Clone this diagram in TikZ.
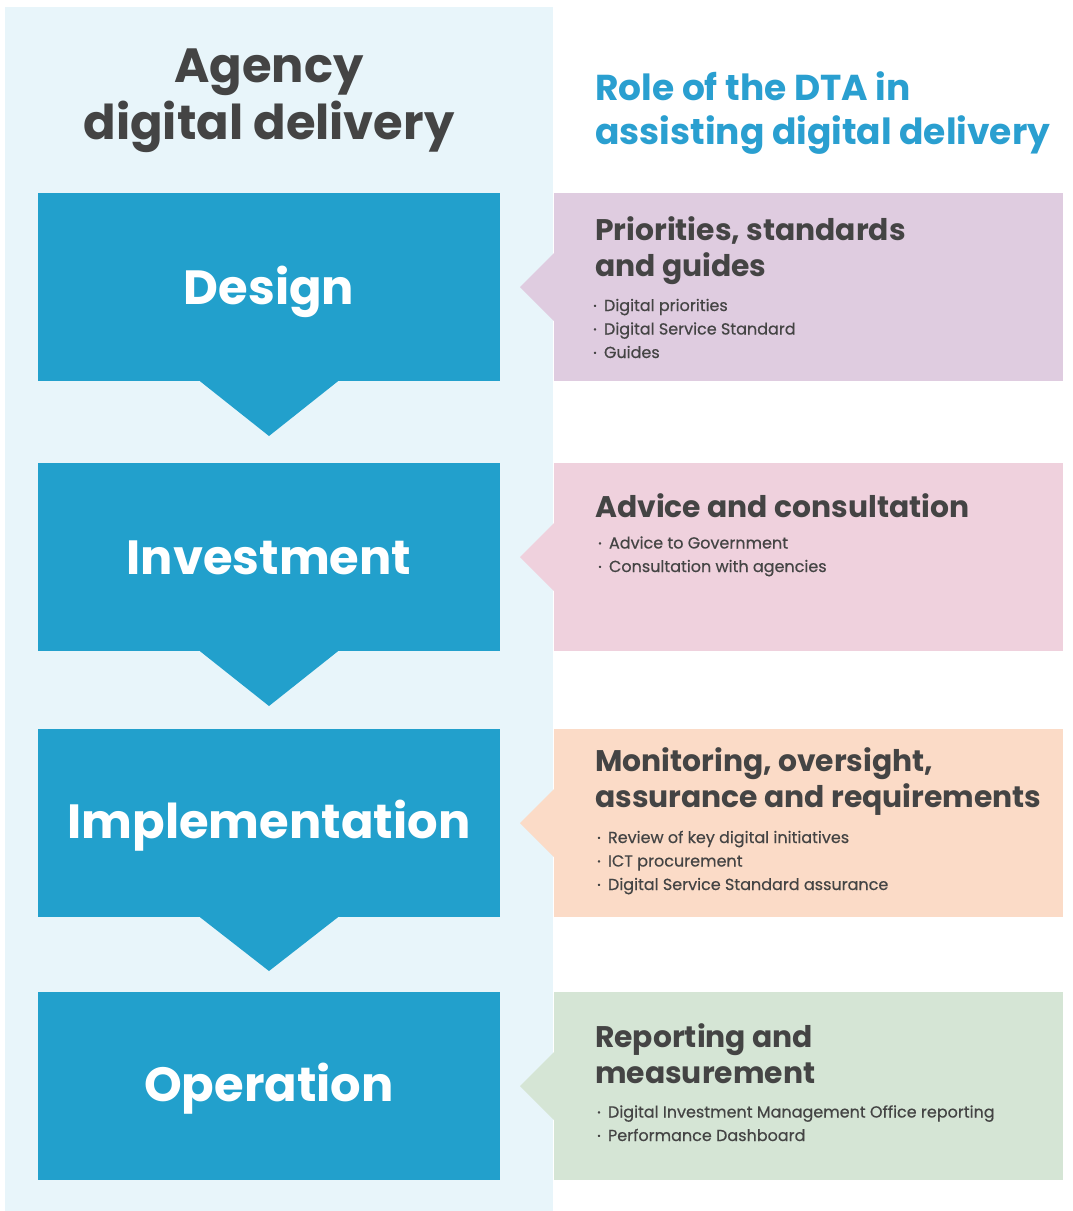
\documentclass[tikz,border=0pt]{standalone}
\usepackage{fontspec}
\setmainfont{Poppins}
\begin{document}
\begin{tikzpicture}[x=1pt,y=-1pt,
  panel/.style={fill=bgblue,draw=none},
  stage/.style={fill=stageblue,draw=none,minimum width=462pt,minimum height=188pt,inner sep=0pt},
  stagelabel/.style={anchor=base,inner sep=0pt,text=white,font=\fontsize{48}{56}\selectfont\bfseries},
  role/.style={draw=none,minimum width=509pt,minimum height=188pt,inner sep=0pt},
  rtitle/.style={anchor=base west,inner sep=0pt,text=darkgray4,align=left,
     font=\fontsize{29.8}{36}\selectfont\bfseries},
  ritem/.style={anchor=base west,inner sep=0pt,text=darkgray4,align=left,
     font=\fontsize{16}{23.5}\selectfont\addfontfeature{FakeBold=0.5}},
]
\definecolor{bgblue}{HTML}{E8F5FA}
\definecolor{stageblue}{HTML}{22A0CC}
\definecolor{darkgray4}{HTML}{444444}
\definecolor{dtablue}{HTML}{2A9FD0}
\definecolor{cpurple}{HTML}{DFCCE0}
\definecolor{cpink}{HTML}{EFD1DD}
\definecolor{cpeach}{HTML}{FBDBC7}
\definecolor{cgreen}{HTML}{D5E5D5}
\newcommand{\bul}{\raisebox{0.25ex}{\scalebox{0.55}{•}}\hspace{0.45em}}

\useasboundingbox (0,0) rectangle (1072,1211);
\fill[white] (0,0) rectangle (1072,1211);
\node[panel,anchor=north west,minimum width=548pt,minimum height=1204pt,inner sep=0pt] (bg) at (5,7) {};

\node[anchor=base,text=darkgray4,align=center,inner sep=0pt,font=\fontsize{48}{57}\selectfont\bfseries] (agency) at (269,139) {Agency\\digital delivery};
\node[anchor=base west,text=dtablue,align=left,inner sep=0pt,font=\fontsize{36}{44}\selectfont\bfseries] (dta) at (595,144) {Role of the DTA in\\assisting digital delivery};

% stages
\node[stage] (design) at (269,287) {};
\node[stage] (invest) at (269,557) {};
\node[stage] (impl) at (269,823) {};
\node[stage] (oper) at (269,1086) {};
\foreach \n/\t in {design/436,invest/706,impl/971}{
  \fill[stageblue] ([xshift=-69pt]\n.south) -- ([xshift=69pt]\n.south) -- (269,\t) -- cycle;
}
\node[stagelabel] (l1) at ([yshift=-17pt]design.center) {Design};
\node[stagelabel] (l2) at ([yshift=-17pt]invest.center) {Investment};
\node[stagelabel] (l3) at ([yshift=-15pt]impl.center) {Implementation};
\node[stagelabel] (l4) at ([yshift=-15pt]oper.center) {Operation};

% role boxes
\node[role,fill=cpurple,anchor=north west] (r1) at (554,193) {};
\node[role,fill=cpink,anchor=north west] (r2) at (554,463) {};
\node[role,fill=cpeach,anchor=north west] (r3) at (554,729) {};
\node[role,fill=cgreen,anchor=north west] (r4) at (554,992) {};
\fill[cpurple] ([yshift=-34pt]r1.west) -- (520,287) -- ([yshift=34pt]r1.west) -- cycle;
\fill[cpink] ([yshift=-34pt]r2.west) -- (520,557) -- ([yshift=34pt]r2.west) -- cycle;
\fill[cpeach] ([yshift=-34pt]r3.west) -- (520,823) -- ([yshift=34pt]r3.west) -- cycle;
\fill[cgreen] ([yshift=-34pt]r4.west) -- (520,1086) -- ([yshift=34pt]r4.west) -- cycle;

\node[rtitle] (t1) at (595,276) {Priorities, standards\\and guides};
\node[ritem] (i1) at (593,358) {\bul Digital priorities\\\bul Digital Service Standard\\\bul Guides};

\node[rtitle] (t2) at (595,517) {Advice and consultation};
\node[ritem] (i2) at (598,572) {\bul Advice to Government\\\bul Consultation with agencies};

\node[rtitle] (t3) at (595,807) {Monitoring, oversight,\\assurance and requirements};
\node[ritem] (i3) at (597,890) {\bul Review of key digital initiatives\\\bul ICT procurement\\\bul Digital Service Standard assurance};

\node[rtitle] (t4) at (595,1083) {Reporting and\\measurement};
\node[ritem] (i4) at (597,1141) {\bul Digital Investment Management Office reporting\\\bul Performance Dashboard};
\end{tikzpicture}
\end{document}
